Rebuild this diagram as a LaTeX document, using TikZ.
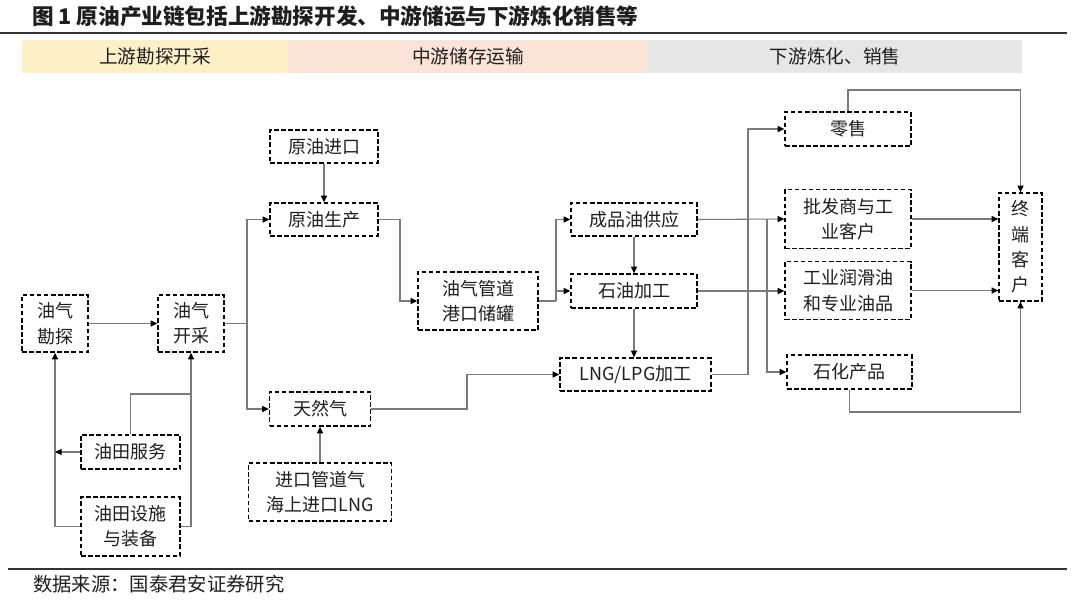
\documentclass[tikz,border=0pt]{standalone}
\usepackage{fontspec}
\setmainfont{Noto Sans CJK SC}
\usetikzlibrary{arrows.meta}
\definecolor{hyellow}{HTML}{FDEFC6}
\definecolor{hpink}{HTML}{FBE3D7}
\definecolor{hgray}{HTML}{E6E6E6}
\definecolor{lnc}{HTML}{7A7A7A}
\definecolor{txt}{HTML}{1E1E1E}
\tikzset{
  bx/.style={draw=black, line width=1pt, dash pattern=on 3.4pt off 1.9pt, fill=white,
    inner sep=0pt, align=center, text=txt,
    font=\fontsize{13.5pt}{19pt}\selectfont},
  hdr/.style={inner sep=0pt, minimum height=24.75pt, text=txt,
    font=\fontsize{14pt}{17pt}\selectfont},
  ln/.style={draw=lnc, line width=0.8pt},
  arr/.style={ln, -{Triangle[length=5pt,width=4.5pt,color=black]}},
}
\begin{document}
\begin{tikzpicture}[x=0.75pt,y=-0.75pt]
\useasboundingbox (0,0) rectangle (1080,600);
% title and rules
\node[anchor=west, inner sep=0pt, text=txt, font=\fontsize{16.2pt}{19pt}\selectfont\bfseries] (title) at (32,16) {图 1 原油产业链包括上游勘探开发、中游储运与下游炼化销售等};
\draw[line width=0.9pt, color=black!80] (0,33) -- (1067,33);
\draw[line width=0.9pt, color=black!80] (8,569) -- (1067,569);
\node[anchor=west, inner sep=0pt, text=txt, font=\fontsize{14.5pt}{17pt}\selectfont] (src) at (33,584) {数据来源：国泰君安证券研究};
% header bars
\node[hdr, fill=hyellow, minimum width=199.5pt] (h1) at (155,56.5) {上游勘探开采};
\node[hdr, fill=hpink, minimum width=270pt] (h2) at (468,56.5) {中游储存运输};
\node[hdr, fill=hgray, minimum width=280.5pt] (h3) at (835,56.5) {下游炼化、销售};
% nodes
\node[bx, minimum width=49.5pt, minimum height=42.75pt] (kt) at (55,323.5) {油气\\勘探};
\node[bx, minimum width=49.5pt, minimum height=42.75pt] (kc) at (191,323.5) {油气\\开采};
\node[bx, minimum width=81pt, minimum height=24.75pt] (yjk) at (324,146.5) {原油进口};
\node[bx, minimum width=81pt, minimum height=24.75pt] (ysc) at (324,219.5) {原油生产};
\node[bx, minimum width=75.75pt, minimum height=25.5pt] (trq) at (320,409) {天然气};
\node[bx, minimum width=107.25pt, minimum height=43.5pt] (jk) at (320,492) {进口管道气\\海上进口LNG};
\node[bx, minimum width=90pt, minimum height=43.5pt] (gd) at (478,301) {油气管道\\港口储罐};
\node[bx, minimum width=94.5pt, minimum height=24.75pt] (cpy) at (634,219.5) {成品油供应};
\node[bx, minimum width=94.5pt, minimum height=25.5pt] (syjg) at (634,291) {石油加工};
\node[bx, minimum width=113.25pt, minimum height=24.75pt] (lng) at (635.5,374.5) {LNG/LPG加工};
\node[bx, minimum width=94.5pt, minimum height=25.5pt] (ls) at (848,129) {零售};
\node[bx, minimum width=94.5pt, minimum height=44.25pt] (pf) at (848,219) {批发商与工\\业客户};
\node[bx, minimum width=94.5pt, minimum height=43.5pt] (gy) at (848,290.5) {工业润滑油\\和专业油品};
\node[bx, minimum width=93.75pt, minimum height=25.5pt] (sh) at (849.5,372) {石化产品};
\node[bx, minimum width=32.25pt, minimum height=81pt] (zd) at (1020.5,247) {终\\端\\客\\户};
\node[bx, minimum width=74.25pt, minimum height=25.5pt] (fw) at (130.5,452) {油田服务};
\node[bx, minimum width=74.25pt, minimum height=44.25pt] (ss) at (130.5,526.5) {油田设施\\与装备};
% junction coordinates
\coordinate (j1) at (191,394);
\coordinate (s1) at (247,323.5);
\coordinate (s2) at (556,301);
\coordinate (s3) at (400,219.5);
\coordinate (s4) at (467,409);
\coordinate (s5) at (748,374.5);
\coordinate (s6) at (767,219);
\coordinate (c1) at (1020.5,90);
\coordinate (c2) at (1020.5,412);
% connectors - upstream
\draw[arr] (kt.east) -- (kc.west);
\draw[arr] (ss.west) -| (kt.south);
\draw[arr] (fw.west) -- (fw.west -| kt.south);
\draw[ln] (fw.north) |- (j1);
\draw[arr] (ss.east) -| (kc.south);
\draw[ln] (kc.east) -- (s1);
\draw[arr] (s1) |- (ysc.west);
\draw[arr] (s1) |- (trq.west);
\draw[arr] (yjk.south) -- (ysc.north);
\draw[arr] (jk.north) -- (trq.south);
% midstream
\draw[arr] (ysc.east) -- (s3) |- (gd.west);
\draw[arr] (trq.east) -- (s4) |- (lng.west);
\draw[ln] (gd.east) -- (s2);
\draw[arr] (s2) |- (cpy.west);
\draw[arr] (s2 |- syjg.west) -- (syjg.west);
\draw[arr] (cpy.south) -- (syjg.north);
\draw[arr] (syjg.south) -- (syjg.south |- lng.north);
% downstream
\draw[arr] (cpy.east) -- (pf.west);
\draw[arr] (s6) |- (sh.west);
\draw[arr] (lng.east) -- (s5) |- (ls.west);
\draw[arr] (syjg.east) -- (syjg.east -| gy.west);
\draw[arr] (ls.north) |- (c1) -- (zd.north);
\draw[arr] (pf.east) -- (pf.east -| zd.west);
\draw[arr] (gy.east) -- (gy.east -| zd.west);
\draw[arr] (sh.south) |- (c2) -- (zd.south);
\end{tikzpicture}
\end{document}
